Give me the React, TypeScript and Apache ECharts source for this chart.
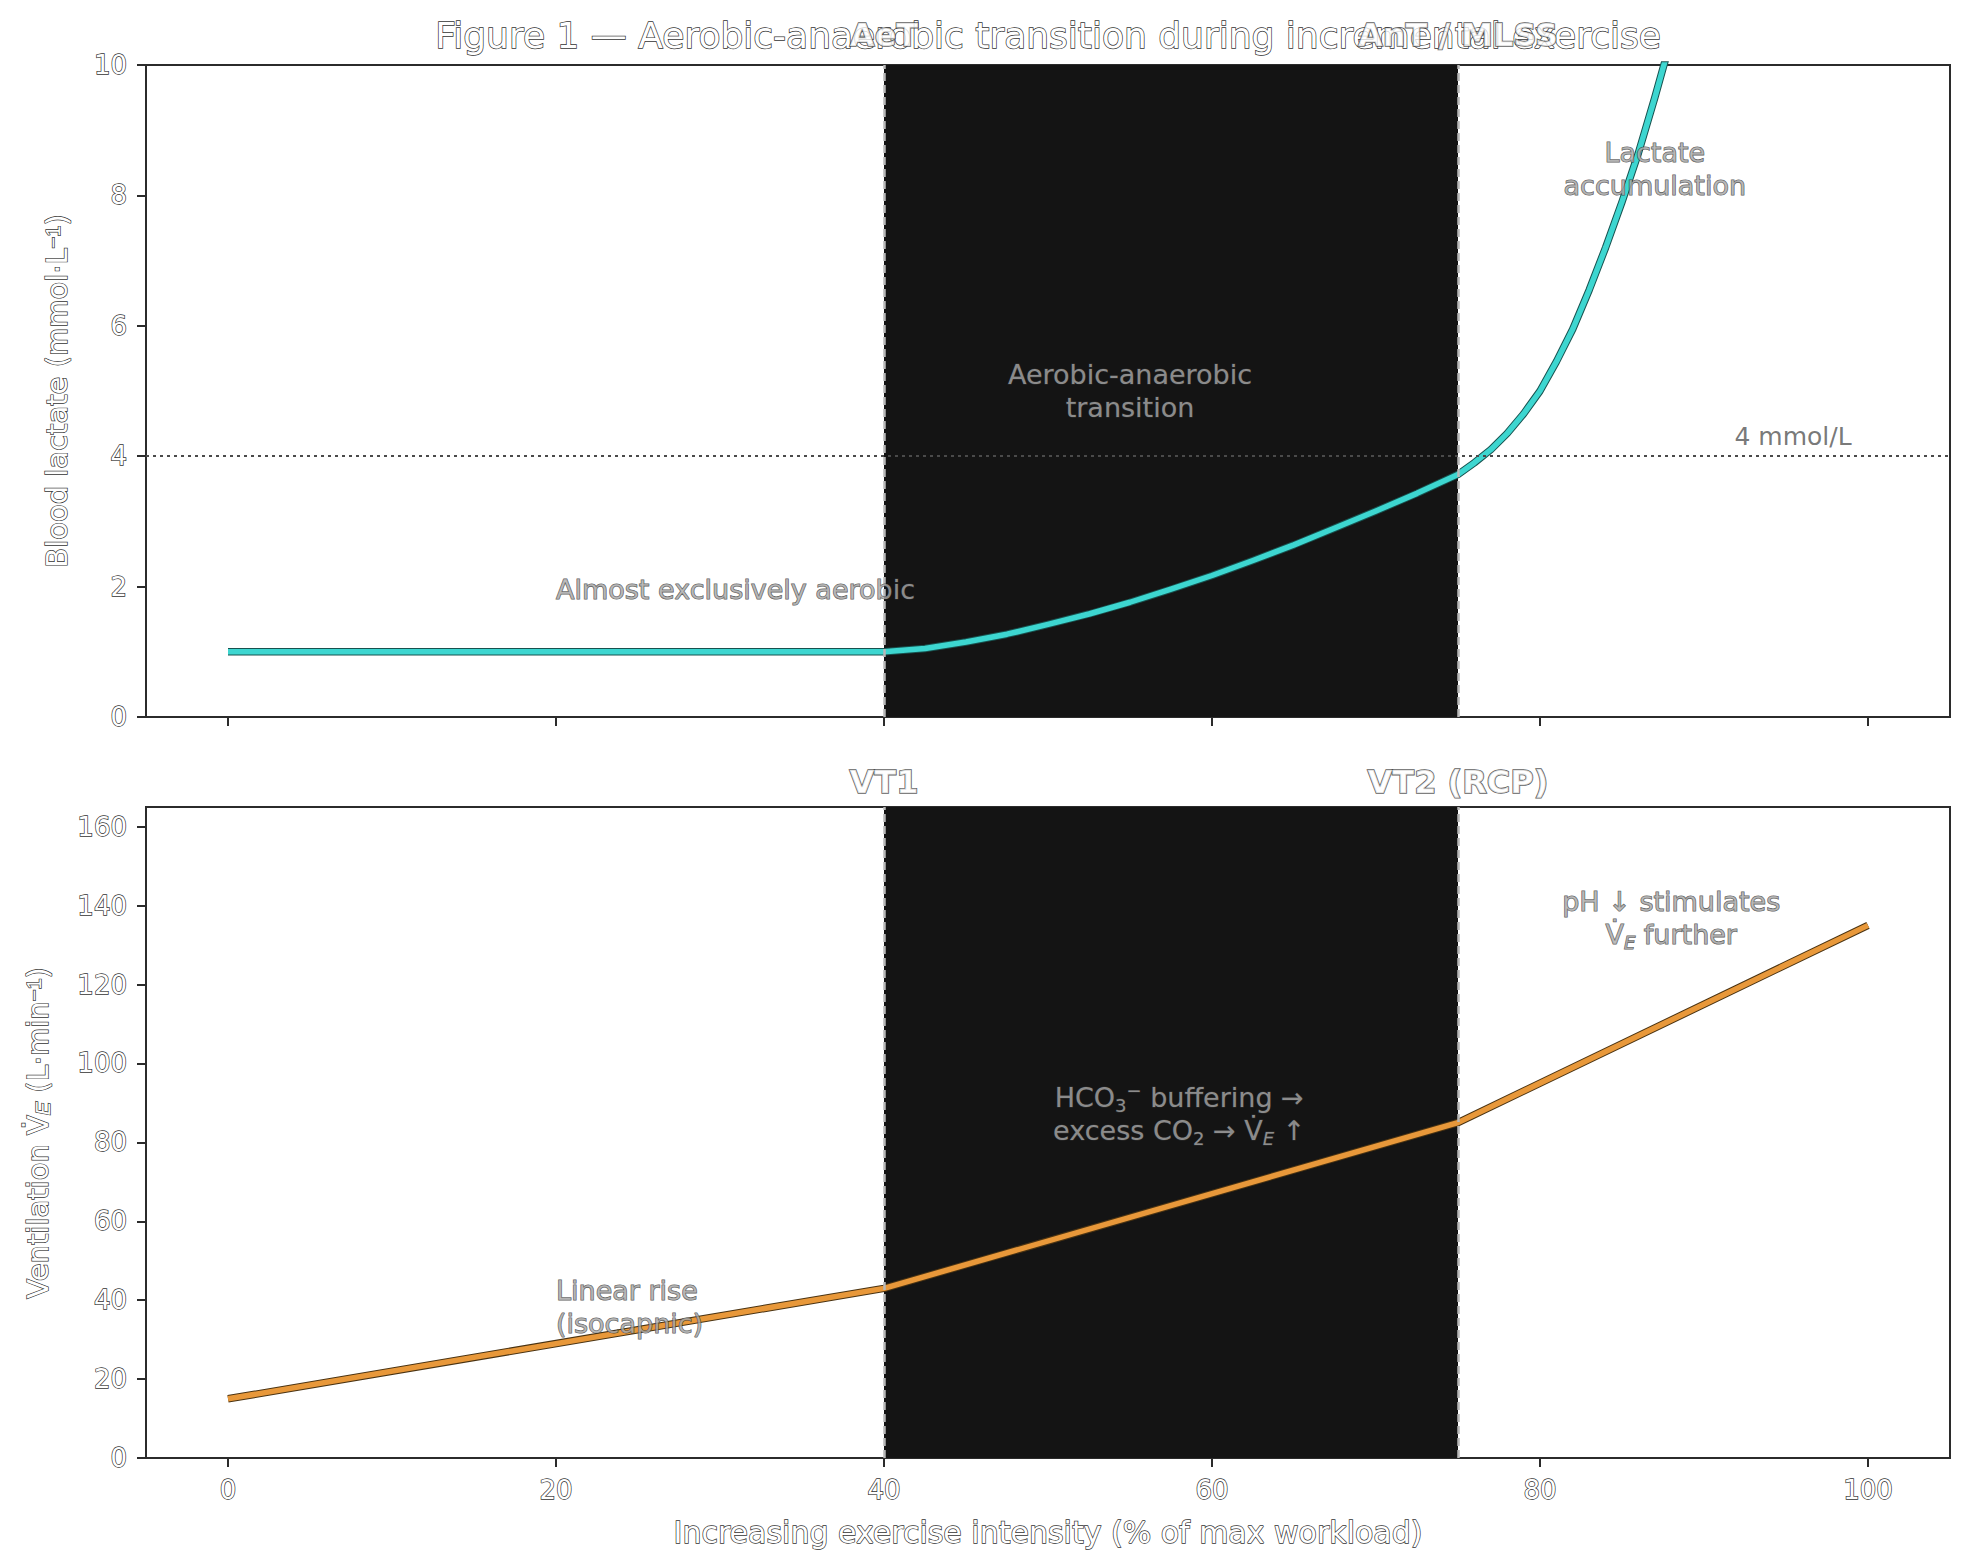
import React, { useEffect, useRef } from 'react';
import * as echarts from 'echarts';

// Exercise intensity (% of max workload) and the two physiological responses
const intensityTicks = [0, 20, 40, 60, 80, 100];
const lactateTicks = [0, 2, 4, 6, 8, 10];
const ventilationTicks = [0, 20, 40, 60, 80, 100, 120, 140, 160];

const lactateIntensity = [0, 5, 10, 15, 20, 25, 30, 35, 40, 42.5, 45, 47.5, 50, 52.5, 55, 57.5, 60, 62.5, 65, 67.5, 70, 72.5, 75, 76, 77, 78, 79, 80, 81, 82, 83, 84, 85, 86, 87, 88];
const lactateValues = [1, 1, 1, 1, 1, 1, 1, 1, 1, 1.05, 1.15, 1.27, 1.42, 1.58, 1.76, 1.96, 2.17, 2.4, 2.64, 2.9, 3.16, 3.43, 3.72, 3.9, 4.1, 4.35, 4.65, 5.0, 5.45, 5.95, 6.55, 7.2, 7.9, 8.65, 9.5, 10.4];

const ventIntensity = [0, 40, 75, 100];
const ventValues = [15, 43, 85, 135];

const thresholds = [40, 75];
const lactateThresholdNames = ['AeT', 'AnT / MLSS'];
const ventThresholdNames = ['VT1', 'VT2 (RCP)'];
const lactateReference = 4;

const FONT = 'DejaVu Sans';
const GRID_LEFT = 146;
const GRID_WIDTH = 1804;
const EDGE = '#333333';

// white glyphs with a thin dark outline
const hollow = { color: '#ffffff', textBorderColor: EDGE, textBorderWidth: 1.4 };
const note = { color: '#ababab', textBorderColor: EDGE, textBorderWidth: 1.1, fontSize: 27, fontFamily: FONT, lineHeight: 33 };

const richScripts = {
  sub: { fontSize: 18, lineHeight: 18, verticalAlign: 'bottom' },
  subi: { fontSize: 18, lineHeight: 18, verticalAlign: 'bottom', fontStyle: 'italic' },
  sup: { fontSize: 18, lineHeight: 18, verticalAlign: 'top' },
};

function pairs(xs: number[], ys: number[]) {
  return xs.map((x, i) => [x, ys[i]]);
}

export default function App() {
  const ref = useRef<HTMLDivElement>(null);

  useEffect(() => {
    document.body.style.margin = '0';
    if (!ref.current) return;
    const chart = echarts.init(ref.current, null, { renderer: 'svg' });

    const tickLabel = { ...hollow, fontSize: 26, fontFamily: FONT, margin: 19 };
    const tick = { show: true, inside: false, length: 9, lineStyle: { color: '#2b2b2b', width: 2 } };
    const noLine = { show: false, onZero: false };

    const vLines = () =>
      thresholds.map((t) => ({
        xAxis: t,
        lineStyle: { color: '#b8b8b8', width: 2.5, type: [8, 4] },
      }));

    const thresholdLabel = (name: string) => ({
      formatter: name,
      ...hollow,
      textBorderWidth: 1.6,
      fontSize: 32,
      fontWeight: 'bold',
      fontFamily: FONT,
      align: 'center',
      verticalAlign: 'middle',
    });

    const outlined = { fill: '#ffffff', stroke: EDGE, lineWidth: 1.4, fontFamily: FONT, align: 'center', verticalAlign: 'middle' };

    const option: any = {
      animation: false,
      backgroundColor: '#ffffff',
      grid: [
        { left: GRID_LEFT, top: 65, width: GRID_WIDTH, height: 652, show: true, borderColor: '#2b2b2b', borderWidth: 2, backgroundColor: 'transparent' },
        { left: GRID_LEFT, top: 807, width: GRID_WIDTH, height: 651, show: true, borderColor: '#2b2b2b', borderWidth: 2, backgroundColor: 'transparent' },
      ],
      xAxis: [
        {
          gridIndex: 0, type: 'value', min: -5, max: 105,
          axisLine: noLine, splitLine: { show: false },
          axisTick: { ...tick, customValues: intensityTicks },
          axisLabel: { show: false },
        },
        {
          gridIndex: 1, type: 'value', min: -5, max: 105,
          axisLine: noLine, splitLine: { show: false },
          axisTick: { ...tick, customValues: intensityTicks },
          axisLabel: { ...tickLabel, customValues: intensityTicks },
        },
      ],
      yAxis: [
        {
          gridIndex: 0, type: 'value', min: 0, max: 10,
          axisLine: noLine, splitLine: { show: false },
          axisTick: { ...tick, customValues: lactateTicks },
          axisLabel: { ...tickLabel, customValues: lactateTicks },
        },
        {
          gridIndex: 1, type: 'value', min: 0, max: 165,
          axisLine: noLine, splitLine: { show: false },
          axisTick: { ...tick, customValues: ventilationTicks },
          axisLabel: { ...tickLabel, customValues: ventilationTicks },
        },
      ],
      series: [
        // Lactate curve: dark edge underneath, turquoise stroke on top
        {
          type: 'line', xAxisIndex: 0, yAxisIndex: 0, z: 2,
          data: pairs(lactateIntensity, lactateValues),
          symbol: 'none', clip: true, silent: true,
          lineStyle: { color: '#17524f', width: 7.5, cap: 'butt', join: 'round' },
          markArea: {
            silent: true,
            itemStyle: { color: '#141414', opacity: 1 },
            data: [[{ xAxis: thresholds[0] }, { xAxis: thresholds[1] }]],
          },
        },
        {
          type: 'line', xAxisIndex: 0, yAxisIndex: 0, z: 3,
          data: pairs(lactateIntensity, lactateValues),
          symbol: 'none', clip: true, silent: true,
          lineStyle: { color: '#3dd6d0', width: 5.5, cap: 'butt', join: 'round' },
          markLine: {
            silent: true,
            symbol: ['none', 'none'],
            label: { show: false },
            data: [
              ...vLines(),
              { yAxis: lactateReference, lineStyle: { color: '#4a4a4a', width: 2.2, type: [3, 4] } },
            ],
          },
        },
        // Ventilation curve
        {
          type: 'line', xAxisIndex: 1, yAxisIndex: 1, z: 2,
          data: pairs(ventIntensity, ventValues),
          symbol: 'none', clip: true, silent: true,
          lineStyle: { color: '#4a3312', width: 7.5, cap: 'butt', join: 'round' },
          markArea: {
            silent: true,
            itemStyle: { color: '#141414', opacity: 1 },
            data: [[{ xAxis: thresholds[0] }, { xAxis: thresholds[1] }]],
          },
        },
        {
          type: 'line', xAxisIndex: 1, yAxisIndex: 1, z: 3,
          data: pairs(ventIntensity, ventValues),
          symbol: 'none', clip: true, silent: true,
          lineStyle: { color: '#e8983a', width: 5.5, cap: 'butt', join: 'round' },
          markLine: {
            silent: true,
            symbol: ['none', 'none'],
            label: { show: false },
            data: vLines(),
          },
        },
        // Annotations, top panel
        {
          type: 'scatter', xAxisIndex: 0, yAxisIndex: 0, z: 6, clip: false, silent: true,
          symbolSize: 0,
          label: { show: true, position: 'inside', ...note, align: 'center', verticalAlign: 'middle' },
          data: [
            { value: [20, 1.95], label: { formatter: 'Almost exclusively aerobic', align: 'left' } },
            { value: [55, 5.0], label: { formatter: 'Aerobic-anaerobic\ntransition' } },
            { value: [87, 8.4], label: { formatter: 'Lactate\naccumulation' } },
            {
              value: [99, lactateReference],
              label: { formatter: '4 mmol/L', align: 'right', verticalAlign: 'bottom', offset: [0, -3], color: '#555555', textBorderWidth: 0, fontSize: 25 },
            },
            { value: [thresholds[0], 10.46], label: thresholdLabel(lactateThresholdNames[0]) },
            { value: [thresholds[1], 10.46], label: thresholdLabel(lactateThresholdNames[1]) },
          ],
        },
        // Annotations, bottom panel
        {
          type: 'scatter', xAxisIndex: 1, yAxisIndex: 1, z: 6, clip: false, silent: true,
          symbolSize: 0,
          label: { show: true, position: 'inside', ...note, align: 'center', verticalAlign: 'middle', rich: richScripts },
          data: [
            { value: [20, 38.2], label: { formatter: 'Linear rise\n(isocapnic)', align: 'left' } },
            { value: [58, 87.1], label: { formatter: 'HCO{sub|3}{sup|−} buffering →\nexcess CO{sub|2} → V̇{subi|E} ↑' } },
            { value: [88, 136.8], label: { formatter: 'pH ↓ stimulates\nV̇{subi|E} further' } },
            { value: [thresholds[0], 171.3], label: thresholdLabel(ventThresholdNames[0]) },
            { value: [thresholds[1], 171.3], label: thresholdLabel(ventThresholdNames[1]) },
          ],
        },
      ],
      graphic: [
        {
          type: 'text', x: 1048, y: 35, z: 5,
          style: { ...outlined, text: 'Figure 1 — Aerobic-anaerobic transition during incremental exercise', fontSize: 36 },
        },
        {
          type: 'text', x: 57, y: 391, rotation: Math.PI / 2, z: 5,
          style: {
            ...outlined,
            text: 'Blood lactate (mmol·L{sup|−1})',
            fontSize: 29,
            rich: { sup: { fontSize: 20, lineHeight: 20, verticalAlign: 'top' } },
          },
        },
        {
          type: 'text', x: 38, y: 1133, rotation: Math.PI / 2, z: 5,
          style: {
            ...outlined,
            text: 'Ventilation V̇{sub|E} (L·min{sup|−1})',
            fontSize: 29,
            rich: {
              sub: { fontSize: 20, lineHeight: 20, verticalAlign: 'bottom', fontStyle: 'italic' },
              sup: { fontSize: 20, lineHeight: 20, verticalAlign: 'top' },
            },
          },
        },
        {
          type: 'text', x: 1048, y: 1532, z: 5,
          style: { ...outlined, text: 'Increasing exercise intensity (% of max workload)', fontSize: 30 },
        },
      ],
    };

    chart.setOption(option);
    return () => chart.dispose();
  }, []);

  return <div ref={ref} style={{ width: 1969, height: 1568 }} />;
}
